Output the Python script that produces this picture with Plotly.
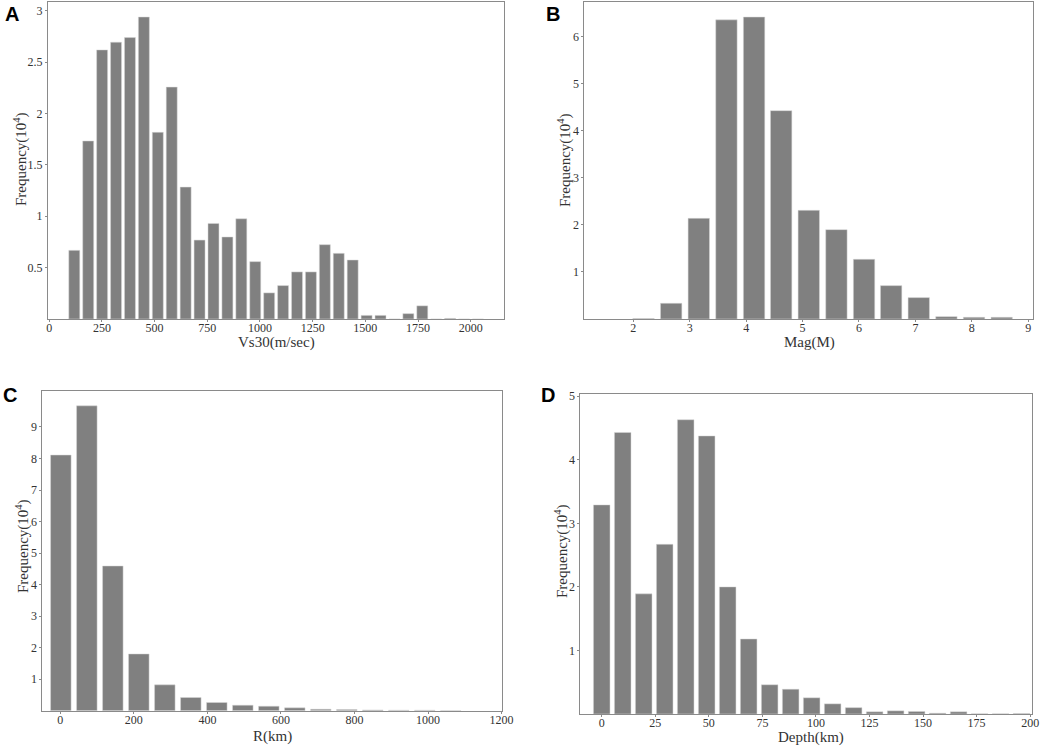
import plotly.graph_objects as go
from plotly.subplots import make_subplots

# bin centres and frequencies (x 10^4)
vs30_bins = [118.7, 184.8, 250.8, 316.9, 382.9, 449.0, 515.1, 581.1, 647.2, 713.2,
             779.3, 845.4, 911.4, 977.5, 1043.5, 1109.6, 1175.7, 1241.7, 1307.8, 1373.8,
             1439.9, 1506.0, 1572.0, 1638.1, 1704.1, 1770.2, 1836.3, 1902.3, 1968.4, 2034.4]
vs30_freq = [0.668, 1.732, 2.618, 2.693, 2.738, 2.938, 1.816, 2.256, 1.283, 0.768,
             0.930, 0.798, 0.975, 0.558, 0.254, 0.325, 0.458, 0.458, 0.723, 0.639,
             0.574, 0.035, 0.035, 0.0, 0.052, 0.128, 0.0, 0.006, 0.0, 0.0]

mag_bins = [2.18, 2.67, 3.16, 3.65, 4.14, 4.62, 5.11, 5.60, 6.09, 6.57, 7.06, 7.55, 8.04, 8.53]
mag_freq = [0.008, 0.334, 2.14, 6.36, 6.42, 4.43, 2.31, 1.90, 1.27, 0.71, 0.455, 0.05, 0.037, 0.037]

r_bins = [1.4, 72.1, 142.8, 213.5, 284.2, 354.9, 425.6, 496.3, 567.0, 637.7,
          708.4, 779.1, 849.8, 920.5, 991.2, 1061.9]
r_freq = [8.11, 9.67, 4.59, 1.80, 0.82, 0.42, 0.26, 0.175, 0.143, 0.09,
          0.048, 0.037, 0.026, 0.016, 0.016, 0.005]

depth_bins = [0.0, 9.8, 19.6, 29.4, 39.2, 49.0, 58.8, 68.6, 78.4, 88.2, 98.0,
              107.8, 117.6, 127.4, 137.2, 147.0, 156.8, 166.6, 176.4, 186.2, 196.0]
depth_freq = [3.29, 4.43, 1.89, 2.67, 4.63, 4.375, 2.00, 1.18, 0.46, 0.39, 0.255,
              0.16, 0.10, 0.035, 0.05, 0.04, 0.013, 0.035, 0.003, 0.003, 0.008]

W, H = 1052, 747
BAR = "#808080"
FRAME = "#8a8a8a"
TXT = "#333333"
SERIF = "Liberation Serif, Times New Roman, serif"
YTITLE = "Frequency(10<sup>4</sup>)"

fig = make_subplots(rows=2, cols=2)

panels = [
    (1, 1, vs30_bins, vs30_freq),
    (1, 2, mag_bins, mag_freq),
    (2, 1, r_bins, r_freq),
    (2, 2, depth_bins, depth_freq),
]
for r, c, xs, ys in panels:
    fig.add_trace(go.Bar(x=xs, y=ys, marker=dict(color=BAR, line=dict(color="#d9d9d9", width=0.5)),
                         showlegend=False), row=r, col=c)

# pixel boxes of each plot area (left, right, top, bottom)
boxes = {
    1: (48, 504, 2, 319),
    2: (584.3, 1032.7, 2, 319),
    3: (42.3, 502.3, 390.7, 710.7),
    4: (580.3, 1032.3, 394.3, 714),
}
xcfg = {
    1: dict(range=[-6, 2158], tickvals=list(range(0, 2001, 250))),
    2: dict(range=[1.13, 9.08], tickvals=list(range(2, 10))),
    3: dict(range=[-49, 1202], tickvals=list(range(0, 1201, 200))),
    4: dict(range=[-10, 201], tickvals=list(range(0, 201, 25))),
}
ycfg = {
    1: dict(range=[0, 3.084], tickvals=[0.5, 1, 1.5, 2, 2.5, 3], ticktext=["0.5", "1", "1.5", "2", "2.5", "3"]),
    2: dict(range=[0, 6.74], tickvals=[1, 2, 3, 4, 5, 6]),
    3: dict(range=[0, 10.15], tickvals=list(range(1, 10))),
    4: dict(range=[0, 5.03], tickvals=[1, 2, 3, 4, 5]),
}

for i in range(1, 5):
    l, rr, t, b = boxes[i]
    xa = "xaxis" if i == 1 else f"xaxis{i}"
    ya = "yaxis" if i == 1 else f"yaxis{i}"
    common = dict(showline=True, mirror=True, linecolor=FRAME, linewidth=1,
                  showgrid=False, zeroline=False, ticks="outside", ticklen=2, automargin=False,
                  tickcolor=FRAME, tickfont=dict(family=SERIF, size=12, color=TXT))
    xc = xcfg[i]
    fig.layout[xa].update(domain=[l / W, rr / W], range=xc["range"], tickvals=xc["tickvals"],
                          ticklabelstandoff=-4, **common)
    yc = ycfg[i]
    fig.layout[ya].update(domain=[1 - b / H, 1 - t / H], range=yc["range"], tickvals=yc["tickvals"],
                          ticklabelstandoff=0, **common)
    if "ticktext" in yc:
        fig.layout[ya].ticktext = yc["ticktext"]

title_font = dict(family=SERIF, size=15, color=TXT)


def label(text, px_x, px_y, font, angle=0):
    fig.add_annotation(text=text, x=px_x / W, y=1 - px_y / H, xref="paper", yref="paper",
                       xanchor="center", yanchor="middle", showarrow=False,
                       textangle=angle, font=font)


# axis titles (pixel positions from the reference)
for text, px_x, px_y in [("Vs30(m/sec)", 276, 343), ("Mag(M)", 809, 343),
                         ("R(km)", 272, 736), ("Depth(km)", 811, 737)]:
    label(text, px_x, px_y, title_font)
for px_x, px_y in [(20, 159), (564, 160), (22, 546), (561, 551)]:
    label(YTITLE, px_x, px_y, title_font, angle=-90)

# panel letters
letter_font = dict(family="Liberation Sans, Arial, sans-serif", size=20, color="black")
for letter, px_x, px_y in [("A", 12, 14), ("B", 553, 14), ("C", 10, 395), ("D", 548, 395)]:
    label(f"<b>{letter}</b>", px_x, px_y, letter_font)

fig.update_layout(width=W, height=H, margin=dict(l=0, r=0, t=0, b=0),
                  plot_bgcolor="white", paper_bgcolor="white", bargap=0.21)

# drop the browser's default 8px body margin so the figure fills the window
fig.write_html("out.html", config={"displayModeBar": False},
               post_script="document.body.style.margin='0';")
